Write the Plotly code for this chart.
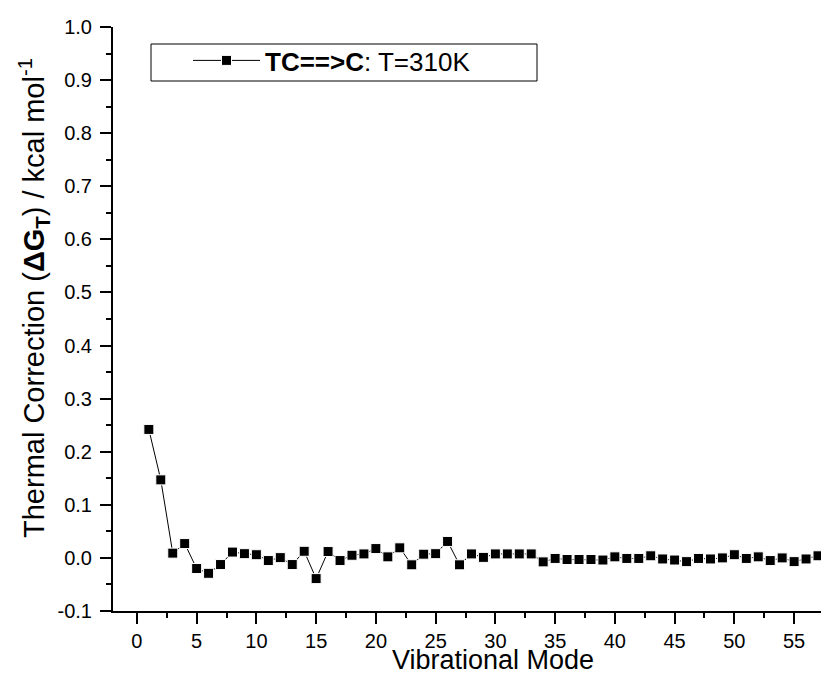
import plotly.graph_objects as go

modes = list(range(1, 58))
thermal_corr = [
    0.242, 0.147, 0.009, 0.027, -0.020, -0.029, -0.0125, 0.011, 0.008, 0.006,
    -0.005, 0.0005, -0.0125, 0.0125, -0.039, 0.012, -0.005, 0.005, 0.0075, 0.0176,
    0.002, 0.019, -0.013, 0.007, 0.008, 0.031, -0.013, 0.0075, 0.001, 0.0075,
    0.0075, 0.0075, 0.0075, -0.0075, -0.001, -0.003, -0.003, -0.003, -0.004, 0.002,
    -0.001, -0.001, 0.004, -0.002, -0.004, -0.007, -0.001, -0.002, 0.0, 0.006,
    -0.001, 0.002, -0.005, 0.0, -0.007, -0.002, 0.004,
]
series_name = "<b>TC==>C</b>: T=310K"
y_tick_vals = [-0.1, 0.0, 0.1, 0.2, 0.3, 0.4, 0.5, 0.6, 0.7, 0.8, 0.9, 1.0]
y_tick_text = ["-0.1", "0.0", "0.1", "0.2", "0.3", "0.4", "0.5", "0.6", "0.7", "0.8", "0.9", "1.0"]
x_tick_vals = [0, 5, 10, 15, 20, 25, 30, 35, 40, 45, 50, 55]
x_title = "Vibrational Mode"
y_title = "Thermal Correction (<b>ΔG</b><sub><b>T</b></sub>) / kcal mol<sup>-1</sup>"

FONT = "Liberation Sans, Arial, sans-serif"
W, H = 821, 675
ML, MR, MT, MB = 113, 0, 27, 64
PW, PH = W - ML - MR, H - MT - MB

def px_x(p):
    return (p - ML) / PW

def px_y(p):
    return (H - MB - p) / PH

fig = go.Figure()
fig.add_trace(go.Scatter(
    x=modes, y=thermal_corr, name=series_name,
    mode="lines+markers",
    line=dict(color="black", width=1),
    marker=dict(symbol="square", size=10, color="black",
                line=dict(color="white", width=1)),
    showlegend=True,
))

axis_common = dict(
    showgrid=False, zeroline=False, showline=True, linecolor="black", linewidth=2,
    ticks="outside", ticklen=11, tickwidth=2, tickcolor="black",
    tickfont=dict(family=FONT, size=20, color="black"), mirror=False,
)

fig.update_xaxes(
    range=[-2, 57.25], tickvals=x_tick_vals,
    minor=dict(dtick=2.5, tick0=0, ticks="outside", ticklen=5, tickwidth=2, tickcolor="black"),
    ticklabelstandoff=0,
    **axis_common,
)
fig.update_yaxes(
    range=[-0.1, 1.0], tickvals=y_tick_vals, ticktext=y_tick_text,
    minor=dict(dtick=0.05, tick0=0, ticks="outside", ticklen=5, tickwidth=2, tickcolor="black"),
    ticklabelstandoff=4,
    **axis_common,
)

fig.add_shape(type="rect", xref="paper", yref="paper",
              x0=px_x(151), x1=px_x(537), y0=px_y(81), y1=px_y(44),
              line=dict(color="black", width=1), fillcolor="rgba(0,0,0,0)", layer="above")

fig.add_annotation(text=x_title, xref="paper", yref="paper",
                   x=px_x(493), y=px_y(677), xanchor="center", yanchor="bottom",
                   showarrow=False, font=dict(family=FONT, size=27, color="black"))
fig.add_annotation(text=y_title, xref="paper", yref="paper",
                   x=px_x(34), y=px_y(298), xanchor="center", yanchor="middle",
                   textangle=-90, showarrow=False,
                   font=dict(family=FONT, size=29, color="black"))

fig.update_layout(
    width=W, height=H,
    margin=dict(l=ML, r=MR, t=MT, b=MB, pad=0),
    paper_bgcolor="white", plot_bgcolor="white",
    showlegend=True,
    legend=dict(x=px_x(188), y=px_y(37), xanchor="left", yanchor="top",
                bgcolor="rgba(0,0,0,0)", borderwidth=0, itemwidth=67,
                font=dict(family=FONT, size=26, color="black")),
)

fig.write_html("out.html")
